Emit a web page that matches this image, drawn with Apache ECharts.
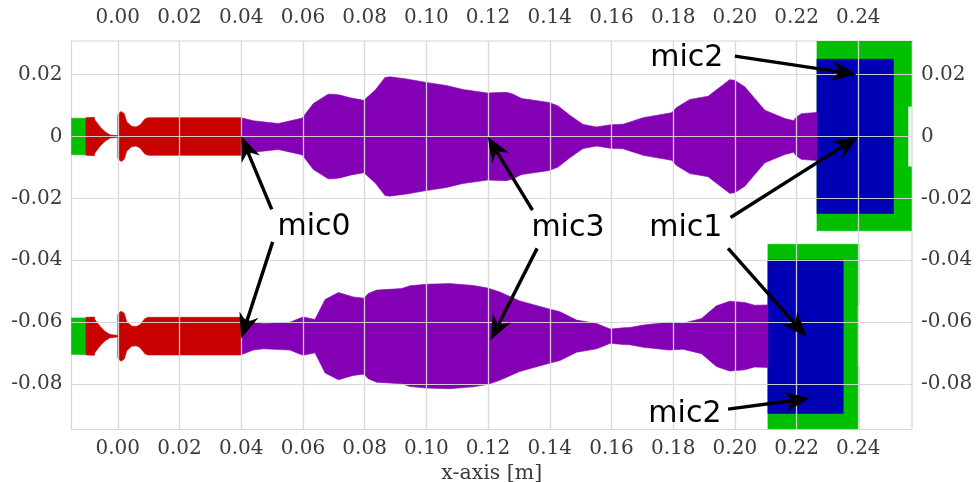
<!DOCTYPE html>
<html><head><meta charset="utf-8">
<style>html,body{margin:0;padding:0;background:#fff}#c{width:976px;height:482px}</style>
<script src="https://cdn.jsdelivr.net/npm/echarts@6/dist/echarts.min.js"></script>
</head><body><div id="c"></div>
<script>
const xTicks = [0,0.02,0.04,0.06,0.08,0.10,0.12,0.14,0.16,0.18,0.20,0.22,0.24];
const yTicks = [-0.08,-0.06,-0.04,-0.02,0,0.02];
const xName = 'x-axis [m]';

const upperCenter = 0;
const lowerCenter = -0.0646;

// inlet nozzle (red): distance along the axis and half height
const redX    = [-0.0103,-0.0076,-0.0074,-0.0057,-0.0041,-0.0025,-0.0003,0,0,0.0002,0.0011,0.0021,0.0029,0.0045,0.0059,0.0072,0.0088,0.0099,0.04];
const redHalf = [0.0061,0.0062,0.0053,0.0031,0.0015,0.0005,0.0003,0.0003,0.0069,0.0074,0.0081,0.0074,0.0047,0.0033,0.0031,0.0037,0.0057,0.0061,0.0061];

// inlet plug (green)
const inletGreenX    = [-0.015,-0.0103];
const inletGreenHalf = [0.0059,0.0059];

// upper duct (purple)
const purpleUpperX    = [0.04,0.0439,0.0483,0.052,0.0596,0.0601,0.0634,0.0682,0.0698,0.072,0.0753,0.0798,0.0807,0.0834,0.0866,0.0882,0.0936,0.1,0.1065,0.1119,0.1198,0.126,0.1281,0.1309,0.1398,0.1427,0.1465,0.1508,0.1552,0.1597,0.1638,0.166,0.1703,0.1795,0.1811,0.1854,0.1913,0.1983,0.1999,0.2032,0.2097,0.2162,0.2191,0.2197,0.2215,0.2266];
const purpleUpperHalf = [0.0061,0.0051,0.0046,0.0042,0.0059,0.0064,0.0107,0.0137,0.0137,0.0134,0.0125,0.0117,0.0126,0.015,0.0191,0.0193,0.0186,0.0175,0.0165,0.0152,0.0141,0.0143,0.0137,0.0123,0.011,0.0099,0.0069,0.0039,0.0031,0.0038,0.004,0.0047,0.0061,0.0077,0.0094,0.012,0.013,0.0184,0.0182,0.0161,0.0085,0.0058,0.0051,0.0061,0.0074,0.0078];

// lower duct (purple)
const purpleLowerX    = [0.04,0.0439,0.0472,0.0558,0.0585,0.0601,0.0639,0.0672,0.0715,0.0763,0.0798,0.0812,0.0839,0.092,0.0947,0.1,0.1076,0.1152,0.1198,0.1238,0.1303,0.1398,0.1433,0.1487,0.1552,0.1589,0.1597,0.1638,0.166,0.1703,0.1787,0.1832,0.1892,0.194,0.1983,0.2032,0.2064,0.2107];
const purpleLowerHalf = [0.006,0.0045,0.0041,0.0045,0.0056,0.0062,0.0054,0.0119,0.0141,0.0127,0.0123,0.0138,0.0149,0.0154,0.0163,0.0168,0.017,0.0164,0.0156,0.0143,0.0114,0.0088,0.0079,0.0052,0.0041,0.0026,0.0023,0.0027,0.0028,0.0036,0.0045,0.0042,0.0057,0.0098,0.0113,0.0109,0.01,0.0101];

// outlet blocks: outlines as x and y
const greenUpperX = [0.2266,0.2572,0.2572,0.2561,0.2561,0.2572,0.2572,0.2266];
const greenUpperY = [0.0309,0.0309,0.0098,0.0098,-0.0098,-0.0098,-0.0305,-0.0305];
const blueUpperX  = [0.2266,0.2514,0.2514,0.2266];
const blueUpperY  = [0.025,0.025,-0.0249,-0.0249];
const greenLowerX = [0.2107,0.2402,0.2402,0.2398,0.2398,0.2402,0.2402,0.2107];
const greenLowerY = [-0.0349,-0.0349,-0.0545,-0.0545,-0.0745,-0.0745,-0.0946,-0.0946];
const blueLowerX  = [0.2107,0.2351,0.2351,0.2107];
const blueLowerY  = [-0.04,-0.04,-0.0896,-0.0896];

// annotations
const labelNames = ['mic0','mic3','mic1','mic2','mic2'];
const labelX = [0.0636,0.1459,0.1841,0.1844,0.1838];
const labelY = [-0.0293,-0.0297,-0.0296,0.0254,-0.0897];
const arrowFromX = [0.0499,0.0502,0.1344,0.1359,0.1986,0.1978,0.2,0.1978];
const arrowFromY = [-0.0236,-0.0341,-0.0238,-0.0362,-0.0262,-0.0362,0.026,-0.0882];
const arrowToX   = [0.04,0.04,0.1199,0.1208,0.2399,0.2232,0.2394,0.2243];
const arrowToY   = [0.0001,-0.0653,-0.0001,-0.0659,-0.0001,-0.0648,0.0201,-0.0847];

const COLORS = {green:'#00c000', red:'#c80000', purple:'#8400b4', blue:'#0000b4'};

function band(xs, half, center){
  const top = xs.map((x,i)=>[x, center+half[i]]);
  const bot = xs.map((x,i)=>[x, center-half[i]]).reverse();
  return top.concat(bot);
}
function outline(xs, ys){ return xs.map((x,i)=>[x, ys[i]]); }

function polySeries(name, pts, color){
  return {
    type:'custom', name, coordinateSystem:'cartesian2d', xAxisIndex:0, yAxisIndex:0,
    z:1, silent:true, clip:true, data:pts, encode:{x:0,y:1},
    renderItem(params, api){
      if(params.dataIndex!==0) return null;
      const points = pts.map(p=>api.coord(p));
      return {type:'polygon', shape:{points}, style:{fill:color, stroke:color, lineWidth:0.6}};
    }
  };
}

const arrowSeries = {
  type:'custom', name:'arrows', coordinateSystem:'cartesian2d', xAxisIndex:0, yAxisIndex:0,
  z:10, silent:true, clip:false,
  data: arrowToX.map((x,i)=>[arrowFromX[i],arrowFromY[i],x,arrowToY[i]]),
  encode:{x:[0,2],y:[1,3]},
  renderItem(params, api){
    const a = api.coord([api.value(0),api.value(1)]);
    const b = api.coord([api.value(2),api.value(3)]);
    const dx=b[0]-a[0], dy=b[1]-a[1], L=Math.hypot(dx,dy), ux=dx/L, uy=dy/L, nx=-uy, ny=ux;
    const hl=25, hw=10, notch=17;
    const head=[b,
      [b[0]-ux*hl+nx*hw, b[1]-uy*hl+ny*hw],
      [b[0]-ux*notch, b[1]-uy*notch],
      [b[0]-ux*hl-nx*hw, b[1]-uy*hl-ny*hw]];
    return {type:'group', children:[
      {type:'line', shape:{x1:a[0],y1:a[1],x2:b[0]-ux*notch,y2:b[1]-uy*notch}, style:{stroke:'#000',lineWidth:3.4}},
      {type:'polygon', shape:{points:head}, style:{fill:'#000'}}
    ]};
  }
};

const labelSeries = {
  type:'custom', name:'labels', coordinateSystem:'cartesian2d', xAxisIndex:0, yAxisIndex:0,
  z:11, silent:true, clip:false,
  data: labelX.map((x,i)=>[x,labelY[i],labelNames[i]]),
  encode:{x:0,y:1},
  renderItem(params, api){
    const p = api.coord([api.value(0),api.value(1)]);
    return {type:'text', style:{text:labelNames[params.dataIndex], x:p[0], y:p[1], align:'center', verticalAlign:'middle',
      fill:'#000', font:'30px "DejaVu Sans"'}};
  }
};

const gridLine = {show:true, lineStyle:{color:'rgba(215,215,215,0.75)', width:1.2}};
const tickFont = {fontFamily:'"DejaVu Serif"', fontSize:20, color:'#3a3a3a'};
const xFmt = v => v.toFixed(2);
const yFmt = v => Math.abs(v)<1e-9 ? '0' : v.toFixed(2);

function xAxis(position, margin, extra){
  return Object.assign({type:'value', position, min:-0.015, max:0.2574, z:5,
    axisLine:{show:false}, axisTick:{show:false, customValues:xTicks}, splitLine:gridLine,
    axisLabel:Object.assign({customValues:xTicks, formatter:xFmt, margin}, tickFont)}, extra||{});
}
function yAxis(position, margin){
  return {type:'value', position, min:-0.0948, max:0.0309, z:5,
    axisLine:{show:false}, axisTick:{show:false, customValues:yTicks}, splitLine:gridLine,
    axisLabel:Object.assign({customValues:yTicks, formatter:yFmt, margin}, tickFont)};
}

const chart = echarts.init(document.getElementById('c'), null, {renderer:'canvas'});
chart.setOption({
  animation:false,
  backgroundColor:'#fff',
  grid:{left:71.5, right:64, top:41, bottom:52.5, show:true, outerBoundsMode:'none', borderColor:'#d6d6d6', borderWidth:1.2, backgroundColor:'#fff'},
  xAxis:[
    xAxis('bottom',9,{name:xName, nameLocation:'middle', nameGap:29,
      nameTextStyle:{fontFamily:'"DejaVu Serif"', fontSize:20.5, color:'#3a3a3a'}}),
    xAxis('top',13)
  ],
  yAxis:[ yAxis('left',9), yAxis('right',9) ],
  series:[
    polySeries('green upper outlet', outline(greenUpperX,greenUpperY), COLORS.green),
    polySeries('blue upper outlet', outline(blueUpperX,blueUpperY), COLORS.blue),
    polySeries('green lower outlet', outline(greenLowerX,greenLowerY), COLORS.green),
    polySeries('blue lower outlet', outline(blueLowerX,blueLowerY), COLORS.blue),
    polySeries('green upper inlet', band(inletGreenX,inletGreenHalf,upperCenter), COLORS.green),
    polySeries('green lower inlet', band(inletGreenX,inletGreenHalf,lowerCenter), COLORS.green),
    polySeries('red upper', band(redX,redHalf,upperCenter), COLORS.red),
    polySeries('red lower', band(redX,redHalf,lowerCenter), COLORS.red),
    polySeries('purple upper', band(purpleUpperX,purpleUpperHalf,upperCenter), COLORS.purple),
    polySeries('purple lower', band(purpleLowerX,purpleLowerHalf,lowerCenter), COLORS.purple),
    arrowSeries,
    labelSeries
  ]
});
</script></body></html>
